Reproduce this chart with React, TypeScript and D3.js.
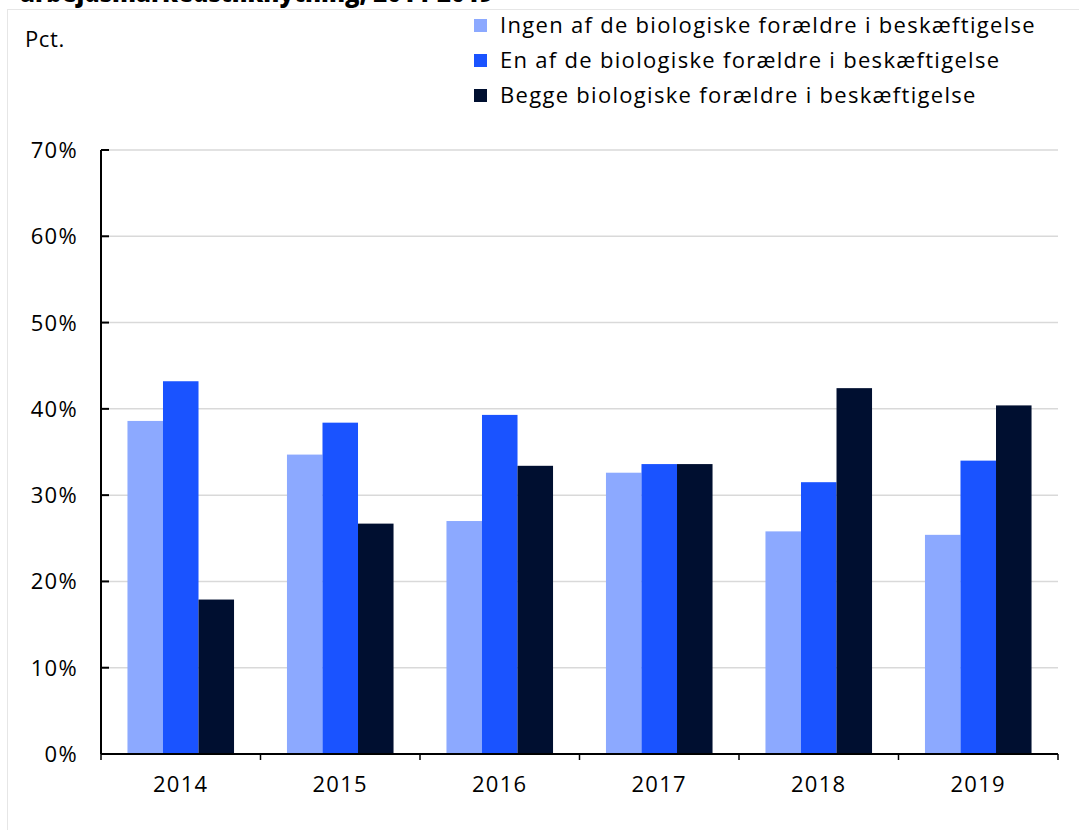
import React from "react";
import * as d3 from "d3";

const years = ["2014", "2015", "2016", "2017", "2018", "2019"];
const seriesNames = [
  "Ingen af de biologiske forældre i beskæftigelse",
  "En af de biologiske forældre i beskæftigelse",
  "Begge biologiske forældre i beskæftigelse",
];
const ingen = [38.6, 34.7, 27.0, 32.6, 25.8, 25.4];
const en = [43.2, 38.4, 39.3, 33.6, 31.5, 34.0];
const begge = [17.9, 26.7, 33.4, 33.6, 42.4, 40.4];
const yTicks = [0, 10, 20, 30, 40, 50, 60, 70];
const colors = ["#8CA9FF", "#1A53FF", "#000F30"];

export default function App() {
  const W = 1079, H = 830;
  const left = 101, right = 1058, top = 150, bottom = 754;
  const font = "'Open Sans', 'Noto Sans', sans-serif";
  const x0 = d3.scaleBand<string>().domain(years).range([left, right]).padding(0);
  const x1 = d3.scaleBand<number>().domain([0, 1, 2]).range([0, x0.bandwidth()]).paddingInner(0).paddingOuter(0.745);
  const y = d3.scaleLinear().domain([0, 70]).range([bottom, top]);
  const data = [ingen, en, begge];
  const boundaries = [...years.map((yr) => x0(yr)!), right];
  const ls = 1.3;
  const fs = 22;

  return (
    <svg width={W} height={H} style={{ position: "absolute", left: 0, top: 0, background: "#fff" }} fontFamily={font}>
      <text x={20} y={2} fontSize={24} fontWeight={800} fill="#000">arbejdsmarkedstilknytning, 2014-2019</text>
      <rect x={7.5} y={9.5} width={1100} height={900} fill="#fff" stroke="#e6e6e6" />
      <text x={25} y={47} fontSize={fs} letterSpacing={0.6} fill="#000">Pct.</text>
      {seriesNames.map((s, i) => (
        <g key={s} transform={`translate(474, ${19 + i * 35})`}>
          <rect x={0} y={0} width={13} height={13} fill={colors[i]} />
          <text x={26} y={14} fontSize={fs} letterSpacing={ls} fill="#000">{s}</text>
        </g>
      ))}
      {yTicks.map((t) => (
        <g key={t}>
          {t > 0 && <line x1={left} x2={right} y1={y(t)} y2={y(t)} stroke="#d9d9d9" strokeWidth={1.5} />}
          <line x1={left} x2={left + 8} y1={y(t)} y2={y(t)} stroke="#000" strokeWidth={2} />
          <text x={78} y={y(t) + 8} fontSize={fs} letterSpacing={ls} textAnchor="end" fill="#000">{t}%</text>
        </g>
      ))}
      {years.map((yr, j) => (
        <g key={yr}>
          {data.map((arr, i) => (
            <rect key={i} x={x0(yr)! + x1(i)!} y={y(arr[j])} width={x1.bandwidth()} height={bottom - y(arr[j])} fill={colors[i]} />
          ))}
          <text x={x0(yr)! + x0.bandwidth() / 2} y={792} fontSize={fs} letterSpacing={ls} textAnchor="middle" fill="#000">{yr}</text>
        </g>
      ))}
      <line x1={left} x2={left} y1={top} y2={bottom} stroke="#000" strokeWidth={2} />
      <line x1={left} x2={right} y1={bottom} y2={bottom} stroke="#000" strokeWidth={2} />
      {boundaries.map((b, i) => (
        <line key={i} x1={b} x2={b} y1={bottom} y2={bottom + 6} stroke="#000" strokeWidth={1.5} />
      ))}
    </svg>
  );
}
